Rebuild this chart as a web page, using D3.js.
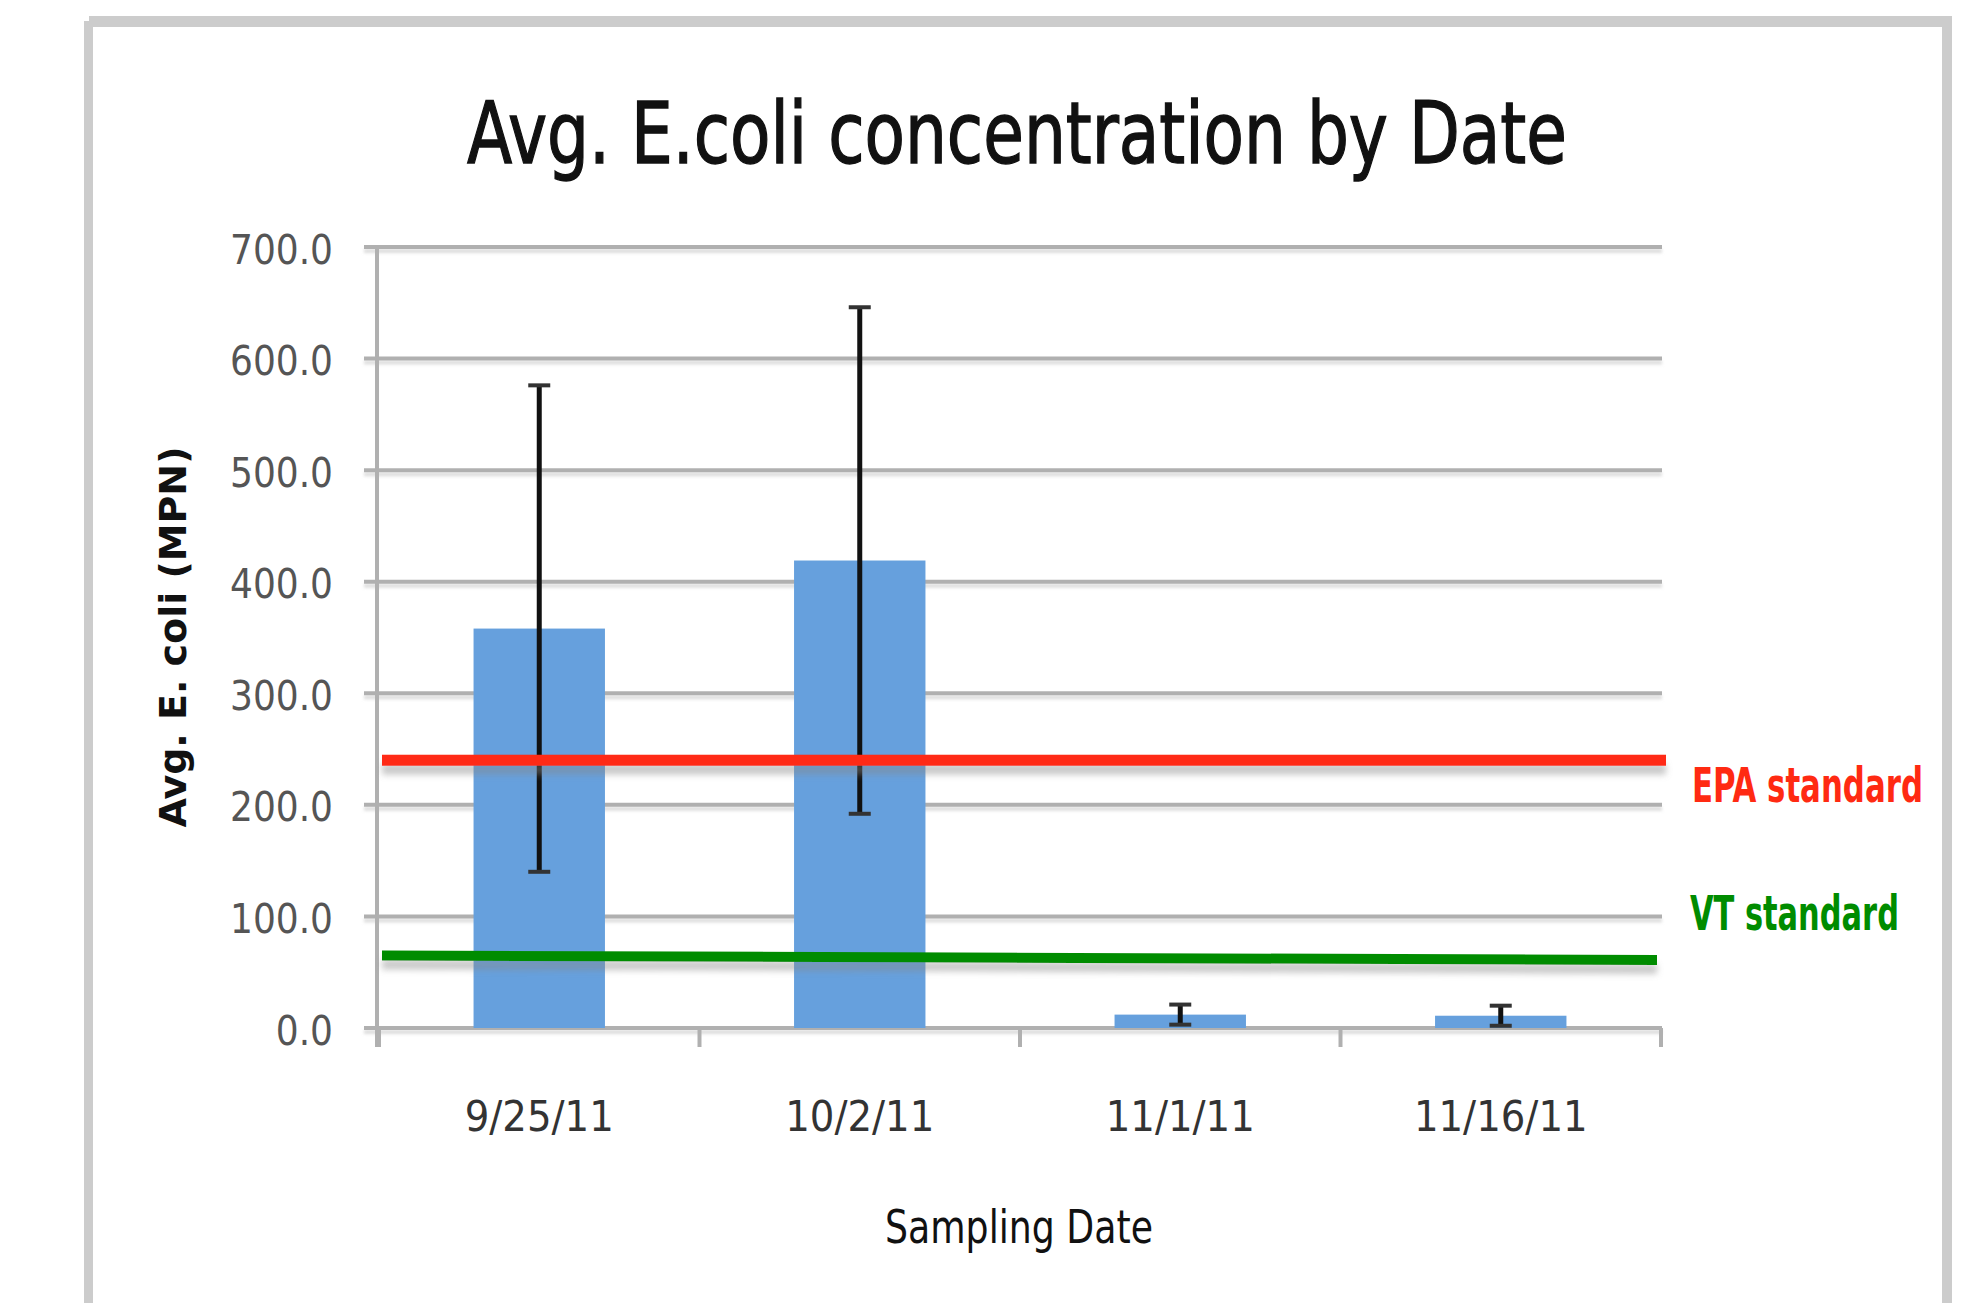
<!DOCTYPE html>
<html lang="en">
<head>
<meta charset="utf-8" />
<title>Avg. E.coli concentration by Date</title>
<script src="https://d3js.org/d3.v7.min.js"></script>
<style>
  body { margin: 0; background: #fff; }
  svg text { font-family: "Liberation Sans Narrow", "DejaVu Sans Condensed", "Liberation Sans", sans-serif; }
</style>
</head>
<body>
<div id="chart"></div>
<script>
// data
var dates = ["9/25/11", "10/2/11", "11/1/11", "11/16/11"];
var avgEcoli = [358, 419, 12, 11];
var errors = [218, 227, 9, 9];
var yTicks = [0, 100, 200, 300, 400, 500, 600, 700];
var epaStandard = 240;
var vtStandard = [65, 61]; // left end, right end (line is slightly tilted)

var width = 1963;
var height = 1303;
var plotLeft = 379, plotRight = 1661, plotTop = 247, plotBottom = 1028;

var svg = d3.select("#chart")
  .append("svg")
  .attr("width", width)
  .attr("height", height);

// shadows (user space so flat lines still get a region)
var defs = svg.append("defs");
defs.append("filter")
  .attr("id", "shadow")
  .attr("filterUnits", "userSpaceOnUse")
  .attr("x", 0).attr("y", 0)
  .attr("width", width).attr("height", height)
  .append("feDropShadow")
  .attr("dx", 0).attr("dy", 9)
  .attr("stdDeviation", 3)
  .attr("flood-color", "#888")
  .attr("flood-opacity", 0.45);
defs.append("filter")
  .attr("id", "softshadow")
  .attr("filterUnits", "userSpaceOnUse")
  .attr("x", 0).attr("y", 0)
  .attr("width", width).attr("height", height)
  .append("feDropShadow")
  .attr("dx", 0).attr("dy", 4)
  .attr("stdDeviation", 1.5)
  .attr("flood-color", "#bbb")
  .attr("flood-opacity", 0.5);

// squeeze a text horizontally so it spans w pixels, starting at x
function squeeze(sel, x, y, w, anchor) {
  var natural = sel.node().getComputedTextLength();
  var k = w / natural;
  sel.attr("x", 0).attr("y", 0)
    .attr("text-anchor", anchor || "start")
    .attr("transform", "translate(" + x + "," + y + ") scale(" + k + ",1)");
}

// outer frame
svg.append("rect").attr("x", 89).attr("y", 16).attr("width", 1863).attr("height", 11).attr("fill", "#cccccc");
svg.append("rect").attr("x", 84).attr("y", 21).attr("width", 9).attr("height", 1290).attr("fill", "#cccccc");
svg.append("rect").attr("x", 1942).attr("y", 21).attr("width", 10).attr("height", 1290).attr("fill", "#cccccc");

var xScale = d3.scaleBand()
  .domain(dates)
  .range([plotLeft, plotRight])
  .paddingInner(0.59)
  .paddingOuter(0.295);

var yScale = d3.scaleLinear()
  .domain([0, 700])
  .range([plotBottom, plotTop]);

// title
var title = svg.append("text")
  .attr("font-size", 86)
  .attr("fill", "#111")
  .attr("stroke", "#111")
  .attr("stroke-width", 1.3)
  .text("Avg. E.coli concentration by Date");
squeeze(title, 1017, 163, 1100, "middle");

// gridlines
svg.append("g")
  .selectAll("line")
  .data(yTicks)
  .enter()
  .append("line")
  .attr("x1", 364)
  .attr("x2", 1662)
  .attr("y1", function(d) { return yScale(d); })
  .attr("y2", function(d) { return yScale(d); })
  .attr("stroke", "#b0b0b0")
  .attr("stroke-width", 4)
  .attr("filter", "url(#softshadow)");

// y axis line
svg.append("line")
  .attr("x1", 377).attr("x2", 377)
  .attr("y1", plotTop).attr("y2", plotBottom + 19)
  .attr("stroke", "#b0b0b0")
  .attr("stroke-width", 4);

// y axis labels
var yAxis = d3.axisLeft(yScale)
  .tickValues(yTicks)
  .tickFormat(d3.format(".1f"))
  .tickSize(0)
  .tickPadding(0);

var gy = svg.append("g")
  .attr("transform", "translate(333,0)")
  .call(yAxis);
gy.select(".domain").remove();
gy.selectAll("text")
  .attr("font-size", 40)
  .attr("fill", "#555")
  .attr("dy", "0.4em")
  .attr("font-family", "'Liberation Sans Narrow', 'DejaVu Sans Condensed', sans-serif");

// x ticks at category boundaries
var gap = (xScale.step() - xScale.bandwidth()) / 2;
var bounds = dates.map(function(d) { return xScale(d) - gap; }).concat([plotRight]);
svg.append("g")
  .selectAll("line")
  .data(bounds)
  .enter()
  .append("line")
  .attr("x1", function(d) { return d; })
  .attr("x2", function(d) { return d; })
  .attr("y1", plotBottom)
  .attr("y2", plotBottom + 19)
  .attr("stroke", "#b0b0b0")
  .attr("stroke-width", 4);

// x labels
var xAxis = d3.axisBottom(xScale).tickSize(0).tickPadding(0);
var gx = svg.append("g")
  .attr("transform", "translate(0,1100)")
  .call(xAxis);
gx.select(".domain").remove();
gx.selectAll("text")
  .attr("font-size", 43)
  .attr("fill", "#333")
  .attr("dy", "0.72em")
  .attr("font-family", "'Liberation Sans Narrow', 'DejaVu Sans Condensed', sans-serif");

// bars
var bars = dates.map(function(d, i) { return { date: d, value: avgEcoli[i], err: errors[i] }; });

svg.append("g")
  .selectAll("rect")
  .data(bars)
  .enter()
  .append("rect")
  .attr("x", function(d) { return xScale(d.date); })
  .attr("y", function(d) { return yScale(d.value); })
  .attr("width", xScale.bandwidth())
  .attr("height", function(d) { return yScale(0) - yScale(d.value); })
  .attr("fill", "#66a0dd");

// error bars
var eb = svg.append("g").selectAll("g")
  .data(bars)
  .enter()
  .append("g");
eb.append("line")
  .attr("x1", function(d) { return xScale(d.date) + xScale.bandwidth() / 2; })
  .attr("x2", function(d) { return xScale(d.date) + xScale.bandwidth() / 2; })
  .attr("y1", function(d) { return yScale(d.value + d.err); })
  .attr("y2", function(d) { return yScale(Math.max(0, d.value - d.err)); })
  .attr("stroke", "#111")
  .attr("stroke-width", 5);
eb.selectAll("line.cap")
  .data(function(d) { return [
    { date: d.date, v: d.value + d.err },
    { date: d.date, v: Math.max(0, d.value - d.err) }
  ]; })
  .enter()
  .append("line")
  .attr("class", "cap")
  .attr("x1", function(d) { return xScale(d.date) + xScale.bandwidth() / 2 - 11; })
  .attr("x2", function(d) { return xScale(d.date) + xScale.bandwidth() / 2 + 11; })
  .attr("y1", function(d) { return yScale(d.v); })
  .attr("y2", function(d) { return yScale(d.v); })
  .attr("stroke", "#333")
  .attr("stroke-width", 4);

// standards
svg.append("line")
  .attr("x1", 382).attr("x2", 1666)
  .attr("y1", yScale(epaStandard)).attr("y2", yScale(epaStandard))
  .attr("stroke", "#ff2a12")
  .attr("stroke-width", 11)
  .attr("filter", "url(#shadow)");

svg.append("line")
  .attr("x1", 382).attr("x2", 1657)
  .attr("y1", yScale(vtStandard[0])).attr("y2", yScale(vtStandard[1]))
  .attr("stroke", "#008c00")
  .attr("stroke-width", 10)
  .attr("filter", "url(#shadow)");

var epaLabel = svg.append("text")
  .attr("font-size", 48)
  .attr("font-weight", "bold")
  .attr("fill", "#ff2a12")
  .text("EPA standard");
squeeze(epaLabel, 1692, 802, 231);

var vtLabel = svg.append("text")
  .attr("font-size", 48)
  .attr("font-weight", "bold")
  .attr("fill", "#008c00")
  .text("VT standard");
squeeze(vtLabel, 1690, 930, 209);

// axis titles
var yTitle = svg.append("text")
  .attr("font-size", 38)
  .attr("font-weight", "bold")
  .attr("fill", "#111")
  .attr("text-anchor", "middle")
  .text("Avg.  E. coli (MPN)");
var kY = 381 / yTitle.node().getComputedTextLength();
yTitle.attr("transform", "translate(186,637) rotate(-90) scale(" + kY + ",1)");

var xTitle = svg.append("text")
  .attr("font-size", 46)
  .attr("fill", "#111")
  .text("Sampling Date");
squeeze(xTitle, 1019, 1243, 268, "middle");
</script>
</body>
</html>
